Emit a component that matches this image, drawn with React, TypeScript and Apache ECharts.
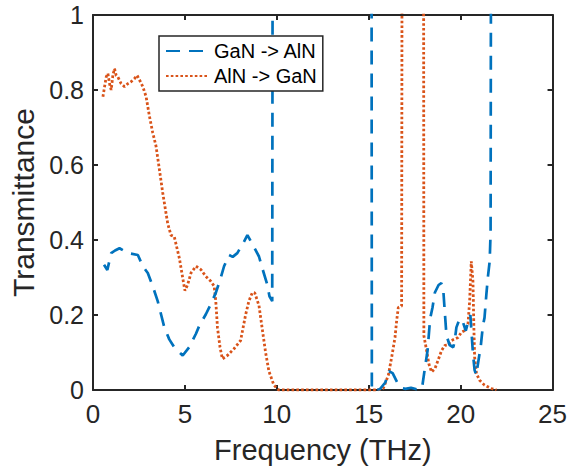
import React, { useEffect, useRef } from "react";
import * as echarts from "echarts";

// Frequency (THz), Transmittance pairs; 1.5 marks values above the plot (clipped at 1)
const gaNToAlN: [number, number][] = [
  [0.6, 0.334], [0.78, 0.32], [0.99, 0.365], [1.2, 0.372], [1.44, 0.378], [1.9, 0.365],
  [2.44, 0.36], [2.71, 0.33], [2.98, 0.312], [3.25, 0.277], [3.52, 0.237], [3.7, 0.202],
  [3.88, 0.167], [4.15, 0.135], [4.42, 0.114], [4.88, 0.092], [5.23, 0.114], [5.6, 0.15],
  [5.78, 0.171], [6.14, 0.202], [6.41, 0.229], [6.68, 0.259], [6.95, 0.299], [7.13, 0.33],
  [7.4, 0.36], [7.6, 0.355], [7.85, 0.365], [8.21, 0.395], [8.4, 0.413], [8.75, 0.382],
  [9.03, 0.356], [9.21, 0.325], [9.48, 0.281], [9.6, 0.25], [9.75, 0.237], [9.78, 1.5],
  [15.15, 1.5], [15.17, 0], [15.6, 0.002], [15.9, 0.02], [16.1, 0.05], [16.3, 0.045],
  [16.55, 0.02], [16.8, 0.005], [17.0, 0.003], [17.3, 0.006], [17.6, 0.002], [17.9, 0.005],
  [18.06, 0.06], [18.2, 0.105], [18.34, 0.19], [18.47, 0.22], [18.6, 0.26], [18.8, 0.28],
  [18.95, 0.285], [19.06, 0.264], [19.15, 0.2], [19.23, 0.145], [19.4, 0.12], [19.6, 0.114],
  [19.68, 0.132], [19.77, 0.167], [19.95, 0.19], [20.13, 0.18], [20.28, 0.158], [20.4, 0.18],
  [20.53, 0.2], [20.67, 0.097], [20.76, 0.053], [20.85, 0.04], [21.0, 0.088], [21.09, 0.114],
  [21.2, 0.167], [21.3, 0.193], [21.4, 0.255], [21.48, 0.3], [21.58, 0.343], [21.63, 0.42],
  [21.66, 1.5], [22.0, 1.5],
];

const alNToGaN: [number, number][] = [
  [0.54, 0.782], [0.63, 0.809], [0.72, 0.835], [0.81, 0.844], [0.9, 0.817], [0.99, 0.8],
  [1.08, 0.839], [1.17, 0.857], [1.26, 0.839], [1.35, 0.835], [1.53, 0.817], [1.71, 0.809],
  [1.9, 0.817], [2.07, 0.822], [2.25, 0.83], [2.4, 0.839], [2.58, 0.822], [2.71, 0.809],
  [2.89, 0.782], [3.07, 0.73], [3.25, 0.686], [3.43, 0.65], [3.61, 0.589], [3.79, 0.527],
  [4.06, 0.445], [4.24, 0.413], [4.42, 0.409], [4.7, 0.351], [4.88, 0.299], [5.0, 0.265],
  [5.15, 0.281], [5.33, 0.312], [5.6, 0.33], [5.87, 0.321], [6.14, 0.303], [6.41, 0.29],
  [6.59, 0.277], [6.68, 0.237], [6.77, 0.167], [6.91, 0.114], [7.04, 0.083], [7.31, 0.092],
  [7.67, 0.11], [8.03, 0.132], [8.3, 0.2], [8.48, 0.237], [8.67, 0.26], [8.8, 0.259],
  [9.03, 0.225], [9.21, 0.162], [9.39, 0.1], [9.57, 0.05], [9.84, 0.013], [10.1, 0],
  [15.5, 0], [15.8, 0.005], [16.07, 0.04], [16.25, 0.088], [16.43, 0.14], [16.52, 0.185],
  [16.61, 0.22], [16.79, 0.224], [16.82, 1.5], [17.98, 1.5], [18.0, 0.145], [18.15, 0.105],
  [18.27, 0.07], [18.42, 0.048], [18.6, 0.057], [18.77, 0.079], [18.96, 0.105], [19.14, 0.119],
  [19.3, 0.12], [19.5, 0.132], [19.68, 0.136], [19.86, 0.14], [20.04, 0.154], [20.2, 0.158],
  [20.4, 0.176], [20.49, 0.237], [20.58, 0.343], [20.67, 0.29], [20.72, 0.167], [20.76, 0.088],
  [20.86, 0.044], [21.03, 0.026], [21.3, 0.013], [21.67, 0.004], [21.95, 0],
];

const seriesNames = ["GaN -> AlN", "AlN -> GaN"];
const xTitle = "Frequency (THz)";
const yTitle = "Transmittance";

const AXIS_COLOR = "#262626";
const FONT = "'Liberation Sans', Arial, Helvetica, sans-serif";

export default function App() {
  const ref = useRef<HTMLDivElement>(null);

  useEffect(() => {
    if (!ref.current) return;
    const chart = echarts.init(ref.current, undefined, { renderer: "svg" });

    const axisLine = { show: true, onZero: false, lineStyle: { color: AXIS_COLOR, width: 2 } };
    const axisTick = { show: true, inside: true, length: 5, lineStyle: { color: AXIS_COLOR, width: 2 } };

    chart.setOption({
      animation: false,
      backgroundColor: "#ffffff",
      textStyle: { fontFamily: FONT },
      grid: { left: 92, right: 17, top: 15, bottom: 85 },
      legend: {
        left: 159,
        top: 36,
        orient: "vertical",
        backgroundColor: "#ffffff",
        borderColor: AXIS_COLOR,
        borderWidth: 1.5,
        borderRadius: 0,
        padding: [5, 6, 5, 6],
        itemGap: 5,
        itemWidth: 43,
        itemHeight: 20,
        itemStyle: { opacity: 0 },
        textStyle: { fontSize: 20, color: "#000000", fontFamily: FONT },
        data: seriesNames,
      },
      xAxis: [
        {
          type: "value",
          min: 0,
          max: 25,
          interval: 5,
          position: "bottom",
          name: xTitle,
          nameLocation: "middle",
          nameGap: 45,
          nameTextStyle: { fontSize: 29, color: AXIS_COLOR, fontFamily: FONT },
          axisLine,
          axisTick,
          axisLabel: { fontSize: 26, color: AXIS_COLOR, margin: 11, fontFamily: FONT },
          splitLine: { show: false },
        },
        {
          type: "value",
          min: 0,
          max: 25,
          interval: 5,
          position: "top",
          axisLine,
          axisTick,
          axisLabel: { show: false },
          splitLine: { show: false },
        },
      ],
      yAxis: [
        {
          type: "value",
          min: 0,
          max: 1,
          interval: 0.2,
          position: "left",
          name: yTitle,
          nameLocation: "middle",
          nameGap: 55,
          nameTextStyle: { fontSize: 30, color: AXIS_COLOR, fontFamily: FONT },
          axisLine,
          axisTick,
          axisLabel: { fontSize: 25, color: AXIS_COLOR, margin: 9, fontFamily: FONT },
          splitLine: { show: false },
        },
        {
          type: "value",
          min: 0,
          max: 1,
          interval: 0.2,
          position: "right",
          axisLine,
          axisTick,
          axisLabel: { show: false },
          splitLine: { show: false },
        },
      ],
      series: [
        {
          name: seriesNames[0],
          type: "line",
          xAxisIndex: 0,
          yAxisIndex: 0,
          data: gaNToAlN,
          symbol: "none",
          clip: true,
          color: "#0072BD",
          lineStyle: { color: "#0072BD", width: 2.7, type: [14, 9] },
          z: 3,
        },
        {
          name: seriesNames[1],
          type: "line",
          xAxisIndex: 0,
          yAxisIndex: 0,
          data: alNToGaN,
          symbol: "none",
          clip: true,
          color: "#D95319",
          lineStyle: { color: "#D95319", width: 2.8, type: [2.6, 2.2], cap: "butt" },
          z: 2,
        },
      ],
    });

    return () => chart.dispose();
  }, []);

  return (
    <div
      ref={ref}
      style={{ position: "absolute", left: 0, top: 0, width: 570, height: 475, background: "#fff" }}
    />
  );
}
